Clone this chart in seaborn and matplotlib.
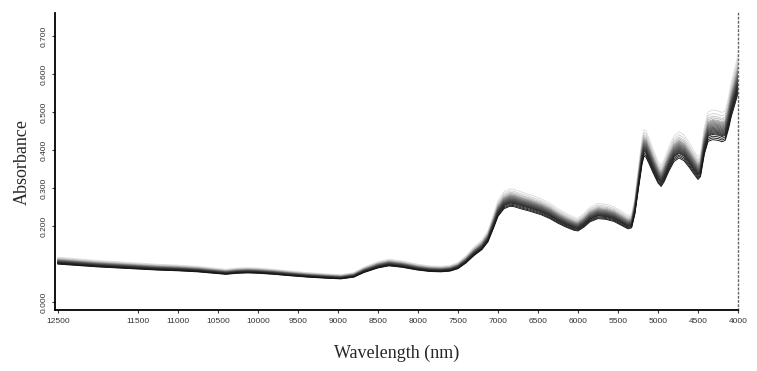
import matplotlib
matplotlib.use("Agg")
import matplotlib.pyplot as plt
import seaborn as sns
import pandas as pd

# mean NIR spectrum (wavenumber axis, reversed)
wavenumber = [12500, 12250, 12000, 11750, 11500, 11250, 11000, 10750, 10500, 10400,
              10250, 10125, 10000, 9800, 9600, 9375, 9150, 8962, 8800, 8675,
              8500, 8362, 8200, 8000, 7850, 7712, 7600, 7500, 7400, 7300,
              7200, 7125, 7050, 7000, 6925, 6850, 6800, 6700, 6600, 6460,
              6350, 6250, 6150, 6050, 6000, 5925, 5850, 5750, 5650, 5550,
              5450, 5375, 5330, 5290, 5250, 5200, 5175, 5150, 5100, 5062,
              5000, 4962, 4925, 4862, 4800, 4737, 4675, 4612, 4550, 4500,
              4470, 4420, 4375, 4320, 4250, 4200, 4160, 4120, 4087, 4040, 4000]
mean_absorbance = [0.107, 0.103, 0.099, 0.096, 0.093, 0.090, 0.088, 0.085, 0.080, 0.078,
                   0.081, 0.082, 0.081, 0.078, 0.074, 0.070, 0.067, 0.065, 0.070, 0.083,
                   0.096, 0.102, 0.098, 0.090, 0.086, 0.085, 0.087, 0.094, 0.110, 0.131,
                   0.148, 0.170, 0.212, 0.242, 0.264, 0.271, 0.270, 0.263, 0.257, 0.247,
                   0.236, 0.223, 0.212, 0.203, 0.201, 0.212, 0.227, 0.236, 0.234, 0.228,
                   0.216, 0.207, 0.210, 0.248, 0.312, 0.390, 0.413, 0.410, 0.386, 0.366,
                   0.337, 0.327, 0.340, 0.372, 0.398, 0.408, 0.400, 0.382, 0.362, 0.347,
                   0.355, 0.420, 0.455, 0.460, 0.458, 0.454, 0.458, 0.490, 0.524, 0.560, 0.593]

# per-sample level relative to the mean, and the grey each sample is drawn in
sample_scale = [1.10, 1.08, 1.065, 1.055, 1.045, 1.04, 1.035, 1.03, 1.025, 1.02,
                1.015, 1.01, 1.005, 1.0, 0.995, 0.99, 0.985, 0.98, 0.975, 0.97,
                0.965, 0.96, 0.95, 0.94, 0.93]
sample_gray = ['#dcdcdc', '#d0d0d0', '#c4c4c4', '#b8b8b8', '#acacac', '#a0a0a0', '#989898',
               '#8c8c8c', '#848484', '#7a7a7a', '#707070', '#686868', '#606060', '#585858',
               '#505050', '#4a4a4a', '#444444', '#3e3e3e', '#383838', '#323232', '#2c2c2c',
               '#262626', '#202020', '#1a1a1a', '#141414']

x_ticks = [12500, 11500, 11000, 10500, 10000, 9500, 9000, 8500, 8000, 7500,
           7000, 6500, 6000, 5500, 5000, 4500, 4000]
y_ticks = [0.0, 0.2, 0.3, 0.4, 0.5, 0.6, 0.7]
y_tick_labels = ['0.000', '0.200', '0.300', '0.400', '0.500', '0.600', '0.700']

rows = []
for i, s in enumerate(sample_scale):
    for w, a in zip(wavenumber, mean_absorbance):
        rows.append({'sample': f's{i:02d}', 'wavenumber': w, 'absorbance': a * s})
df = pd.DataFrame(rows)

sns.set_style("ticks")
plt.rcParams['font.family'] = ['Liberation Sans', 'DejaVu Sans']

fig = plt.figure(figsize=(7.57, 3.71), dpi=100)
ax = fig.add_axes([0.073, 0.164, 0.902, 0.801])

sns.lineplot(data=df, x='wavenumber', y='absorbance', hue='sample',
             palette=sample_gray, legend=False, linewidth=0.65, ax=ax)

ax.set_xlim(12530, 4000)
ax.set_ylim(-0.022, 0.762)
ax.set_xticks(x_ticks)
ax.set_xticklabels([str(t) for t in x_ticks], fontsize=6)
ax.set_yticks(y_ticks)
ax.set_yticklabels(y_tick_labels, fontsize=6, rotation=90, va='center')
ax.tick_params(axis='both', length=2.5, width=0.8, pad=3, colors='#333333')

for side in ['left', 'bottom']:
    ax.spines[side].set_color('black')
    ax.spines[side].set_linewidth(1.3)
ax.spines['top'].set_visible(False)
ax.spines['right'].set_linestyle((0, (1, 2)))
ax.spines['right'].set_color('#666666')
ax.spines['right'].set_linewidth(1.0)

ax.set_xlabel('Wavelength (nm)', fontsize=13, family='Liberation Serif', labelpad=14.5)
ax.set_ylabel('Absorbance', fontsize=13, family='Liberation Serif', labelpad=7)

fig.savefig('out.png', dpi=100)
